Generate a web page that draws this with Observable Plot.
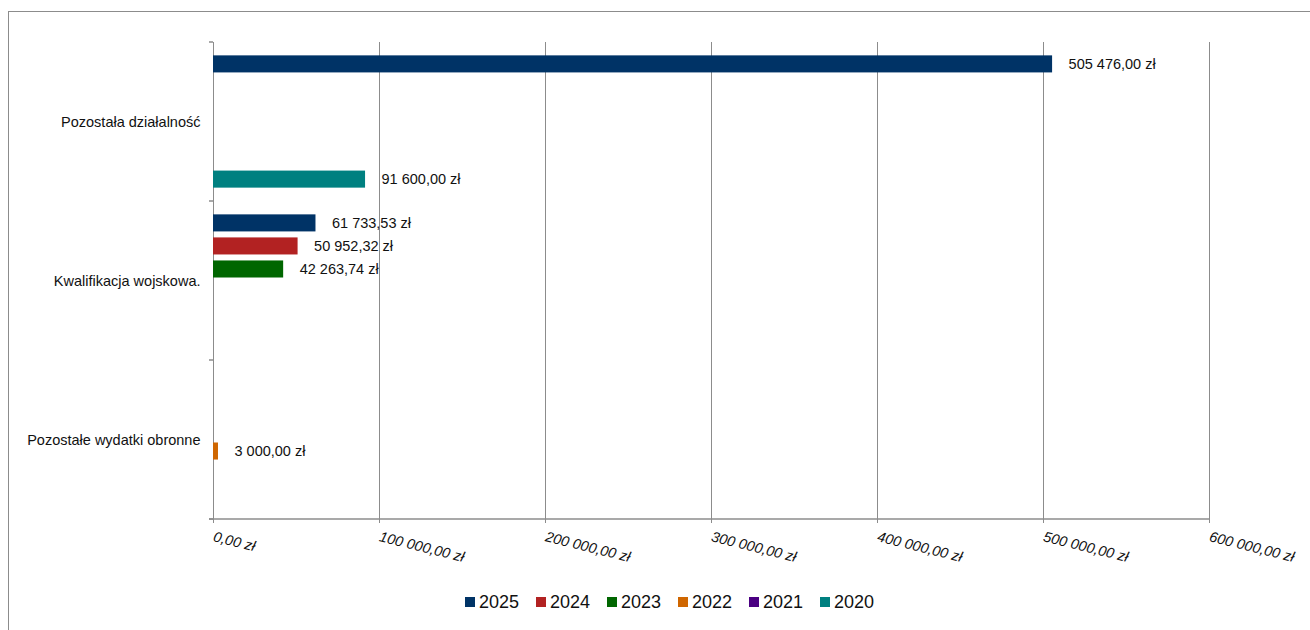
<!DOCTYPE html>
<html><head><meta charset="utf-8">
<script src="https://cdn.jsdelivr.net/npm/d3@7"></script>
<script src="https://cdn.jsdelivr.net/npm/@observablehq/plot@0.6"></script>
<style>
body{margin:0;background:#fff;font-family:"Liberation Sans",Arial,sans-serif;}
#wrap{position:relative;width:1310px;height:630px;overflow:hidden;background:#fff;}
#border{position:absolute;left:8px;top:11px;right:-10px;bottom:-10px;border-top:1.5px solid #8c8c8c;border-left:1.5px solid #8c8c8c;}
#chart{position:absolute;left:0;top:0;}
#legend{position:absolute;left:465px;top:591px;display:flex;align-items:center;height:22px;}
.item{display:flex;align-items:center;width:71px;font-size:18px;color:#111;}
.sw{width:10px;height:10px;margin-right:4px;flex:none;}
</style>
</head><body>
<div id="wrap"><div id="border"></div><div id="chart"></div><div id="legend"></div></div>
<script>
// ---- data ----
const categories = ["Pozostała działalność", "Kwalifikacja wojskowa.", "Pozostałe wydatki obronne"];
const years = ["2025", "2024", "2023", "2022", "2021", "2020"];
const colors = ["#003366", "#B22222", "#006600", "#CF6600", "#4B0082", "#008080"];
// values per year, aligned with categories (null = no bar)
const v2025 = [505476.00, 61733.53, null];
const v2024 = [null, 50952.32, null];
const v2023 = [null, 42263.74, null];
const v2022 = [null, null, 3000.00];
const v2021 = [null, null, null];
const v2020 = [91600.00, null, null];
const xTicks = [0, 100000, 200000, 300000, 400000, 500000, 600000];

const series = {"2025": v2025, "2024": v2024, "2023": v2023, "2022": v2022, "2021": v2021, "2020": v2020};
const rows = [];
for (const yr of years) {
  series[yr].forEach((v, i) => { if (v != null) rows.push({category: categories[i], year: yr, value: v}); });
}

const pl = d3.formatLocale({decimal: ",", thousands: " ", grouping: [3], currency: ["", " zł"]});
const fmt = pl.format("$,.2f");

const axisGray = "#8c8c8c";
const plot = Plot.plot({
  width: 1310,
  height: 570,
  marginLeft: 213,
  marginRight: 101,
  marginTop: 42,
  marginBottom: 51,
  style: {fontFamily: '"Liberation Sans", Arial, sans-serif', background: "transparent", overflow: "visible"},
  x: {domain: [0, 600000]},
  fy: {domain: categories, padding: 0, round: false},
  y: {domain: years, paddingInner: 0.26, paddingOuter: 0.58, round: false, axis: null},
  color: {domain: years, range: colors},
  marks: [
    Plot.gridX({ticks: xTicks, stroke: axisGray, strokeOpacity: 1, strokeWidth: 1}),
    Plot.barX(rows, {x: "value", y: "year", fy: "category", fill: "year"}),
    Plot.text(rows, {x: "value", y: "year", fy: "category", text: d => fmt(d.value), dx: 16, textAnchor: "start", fontSize: 14.5, fill: "#111"}),
    Plot.axisFy({anchor: "left", tickSize: 0, tickPadding: 13, fontSize: 14.5, label: null, fill: "#111"}),
    Plot.axisX({ticks: xTicks, tickFormat: fmt, tickSize: 4, tickPadding: 13, tickRotate: 14, fontSize: 14.5, fontStyle: "italic", stroke: axisGray, fill: "#111", label: null})
  ]
});
document.getElementById("chart").appendChild(plot);

// axis line and band-boundary ticks from the plot's own scales
const xs = plot.scale("x"), fys = plot.scale("fy");
const svg = d3.select(plot);
const bw = fys.bandwidth;
const bounds = categories.map(c => fys.apply(c)).concat([fys.apply(categories[categories.length - 1]) + bw]);
const x0 = xs.apply(0), x1 = xs.apply(600000);
const g = svg.append("g").attr("stroke", axisGray).attr("stroke-width", 1.5);
bounds.forEach(b => g.append("line").attr("x1", x0 - 4).attr("x2", x0).attr("y1", b).attr("y2", b));
const yb = bounds[bounds.length - 1];
g.append("line").attr("x1", x0 - 4).attr("x2", x1).attr("y1", yb).attr("y2", yb);

// legend
const lg = document.getElementById("legend");
years.forEach((yr, i) => {
  const it = document.createElement("div"); it.className = "item";
  const sw = document.createElement("span"); sw.className = "sw"; sw.style.background = colors[i];
  const t = document.createElement("span"); t.textContent = yr;
  it.appendChild(sw); it.appendChild(t); lg.appendChild(it);
});
</script>
</body></html>
